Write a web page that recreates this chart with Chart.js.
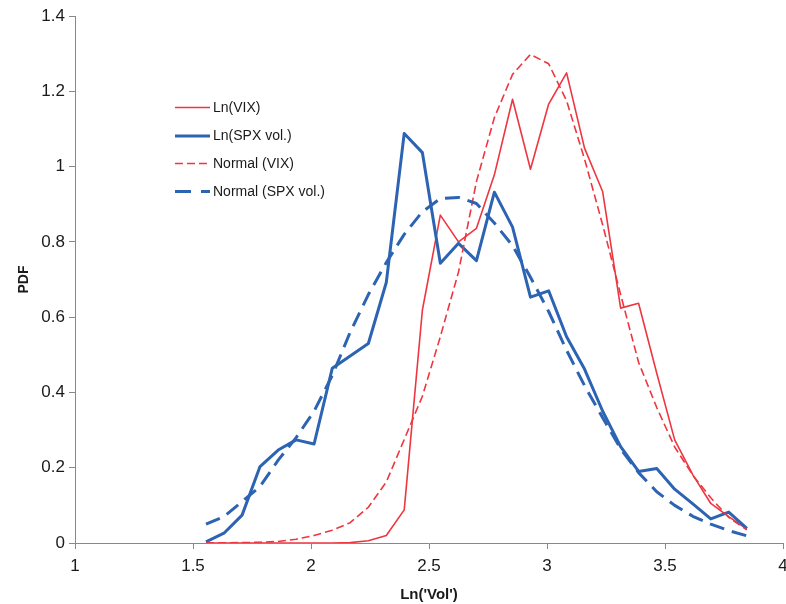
<!DOCTYPE html>
<html>
<head>
<meta charset="utf-8">
<script src="https://cdn.jsdelivr.net/npm/chart.js@4.4.1/dist/chart.umd.min.js"></script>
<style>
  html, body { margin: 0; padding: 0; background: #ffffff; }
  #wrap { width: 786px; height: 604px; position: relative; }
</style>
</head>
<body>
<div id="wrap"><canvas id="c" width="786" height="604"></canvas></div>
<script>
// ---- data ----
const xValues = [1.555, 1.631, 1.708, 1.784, 1.861, 1.937, 2.013, 2.090, 2.166, 2.243,
                 2.319, 2.395, 2.472, 2.548, 2.625, 2.701, 2.777, 2.854, 2.930, 3.007,
                 3.083, 3.159, 3.236, 3.312, 3.388, 3.465, 3.541, 3.618, 3.694, 3.770, 3.847];

const lnVIX = [0, 0, 0, 0, 0, 0, 0, 0, 0.001, 0.006,
               0.02, 0.088, 0.619, 0.871, 0.80, 0.836, 0.978, 1.179, 0.993, 1.166,
               1.249, 1.049, 0.933, 0.624, 0.637, 0.451, 0.274, 0.181, 0.105, 0.07, 0.037];

const lnSPX = [0.003, 0.026, 0.074, 0.203, 0.247, 0.274, 0.263, 0.464, 0.497, 0.53,
               0.692, 1.088, 1.037, 0.743, 0.796, 0.75, 0.932, 0.839, 0.653, 0.67,
               0.548, 0.462, 0.35, 0.256, 0.19, 0.198, 0.143, 0.104, 0.064, 0.082, 0.039];

const normalVIX = [0.0, 0.0005, 0.001, 0.002, 0.004, 0.01, 0.02, 0.034, 0.054, 0.095,
                   0.162, 0.275, 0.39, 0.548, 0.72, 0.96, 1.13, 1.245, 1.298, 1.273,
                   1.175, 1.02, 0.845, 0.66, 0.48, 0.36, 0.255, 0.18, 0.12, 0.068, 0.035];

const normalSPX = [0.05, 0.07, 0.11, 0.15, 0.22, 0.28, 0.35, 0.445, 0.56, 0.66,
                   0.745, 0.82, 0.88, 0.915, 0.918, 0.902, 0.85, 0.79, 0.706, 0.615,
                   0.512, 0.418, 0.333, 0.25, 0.187, 0.136, 0.10, 0.071, 0.05, 0.033, 0.019];

const seriesLabels = ['Ln(VIX)', 'Ln(SPX vol.)', 'Normal (VIX)', 'Normal (SPX vol.)'];
const xTitle = "Ln('Vol')";
const yTitle = 'PDF';

// ---- styling ----
const RED = '#EE3640';
const BLUE = '#2C63B2';
const FONT = "'Liberation Sans', Arial, sans-serif";

function pts(ys) { return xValues.map((x, i) => ({ x: x, y: ys[i] })); }
function general(v) { return String(Math.round(v * 100) / 100); }

const legendPlugin = {
  id: 'insideLegend',
  afterDraw(chart) {
    const ctx = chart.ctx;
    const x0 = 175, x1 = 210, tx = 213;
    const rows = [107.5, 136, 163.5, 191.5];
    ctx.save();
    chart.data.datasets.forEach((ds, i) => {
      const y = rows[i];
      ctx.beginPath();
      ctx.strokeStyle = ds.borderColor;
      ctx.lineWidth = ds.borderWidth;
      ctx.setLineDash(ds.legendDash || []);
      ctx.lineCap = 'butt';
      ctx.moveTo(x0, y);
      ctx.lineTo(x1, y);
      ctx.stroke();
      ctx.setLineDash([]);
      ctx.fillStyle = '#1a1a1a';
      ctx.font = '14px ' + FONT;
      ctx.textBaseline = 'middle';
      ctx.textAlign = 'left';
      ctx.fillText(ds.label, tx, y + 0.5);
    });
    ctx.restore();
  }
};

new Chart(document.getElementById('c'), {
  type: 'line',
  data: {
    datasets: [
      { label: seriesLabels[0], data: pts(lnVIX), borderColor: RED, borderWidth: 1.6,
        order: 3, legendDash: [] },
      { label: seriesLabels[1], data: pts(lnSPX), borderColor: BLUE, borderWidth: 3,
        order: 2, legendDash: [] },
      { label: seriesLabels[2], data: pts(normalVIX), borderColor: RED, borderWidth: 1.6,
        borderDash: [8, 4], order: 1, legendDash: [8, 4] },
      { label: seriesLabels[3], data: pts(normalSPX), borderColor: BLUE, borderWidth: 3,
        borderDash: [15, 8], order: 0, legendDash: [16, 10] }
    ].map(d => Object.assign({ fill: false, pointRadius: 0, pointHoverRadius: 0, tension: 0,
                                borderJoinStyle: 'round' }, d))
  },
  options: {
    responsive: false,
    animation: false,
    events: [],
    layout: { padding: { top: 16, right: 3, bottom: 0, left: 0 } },
    plugins: { legend: { display: false }, tooltip: { enabled: false } },
    scales: {
      x: {
        type: 'linear', min: 1, max: 4,
        ticks: { stepSize: 0.5, color: '#1a1a1a', font: { family: FONT, size: 17 }, padding: 7,
                 maxRotation: 0, callback: (v) => general(v) },
        grid: { drawOnChartArea: false, drawTicks: true, tickLength: 6, color: '#888888' },
        border: { color: '#888888', width: 1 },
        title: { display: true, text: xTitle, color: '#1a1a1a',
                 font: { family: FONT, size: 15, weight: 'bold' }, padding: { top: 0, bottom: 0 } },
        afterFit: (s) => { s.height = 61; s.paddingRight = 0; s.paddingLeft = 0; }
      },
      y: {
        min: 0, max: 1.4,
        ticks: { stepSize: 0.2, color: '#1a1a1a', font: { family: FONT, size: 17 }, padding: 4,
                 callback: (v) => general(v) },
        grid: { drawOnChartArea: false, drawTicks: true, tickLength: 6, color: '#888888' },
        border: { color: '#888888', width: 1 },
        title: { display: true, text: yTitle, color: '#1a1a1a',
                 font: { family: FONT, size: 14, weight: 'bold' }, padding: { top: 16, bottom: 0 } },
        afterFit: (s) => { s.width = 75; }
      }
    }
  },
  plugins: [legendPlugin]
});
</script>
</body>
</html>
